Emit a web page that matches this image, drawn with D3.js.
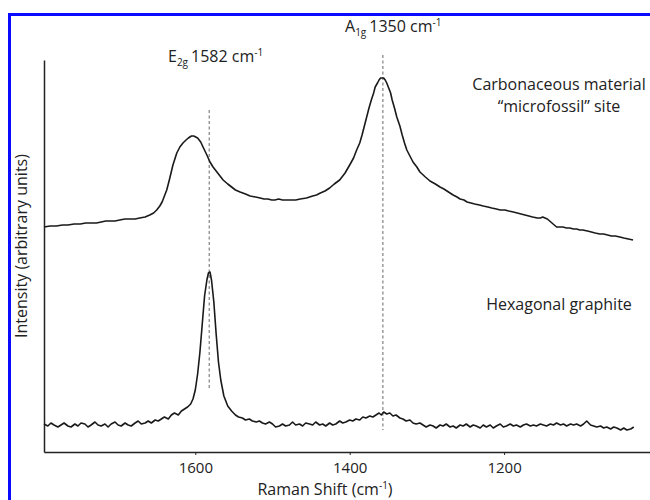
<!DOCTYPE html>
<html>
<head>
<meta charset="utf-8">
<script src="https://cdn.jsdelivr.net/npm/d3@7"></script>
<style>
  html, body { margin: 0; padding: 0; background: #fff; }
  svg { display: block; }
  text { font-family: "Open Sans", "Noto Sans", sans-serif; fill: #222; }
</style>
</head>
<body>
<svg id="chart" width="650" height="500"></svg>
<script>
// ---- Data ----
const xTicks = [1600, 1400, 1200];
const xDomain = [1796, 1011];
const yDomain = [0, 392];

// Carbonaceous material "microfossil" site : [Raman shift, intensity]
const carbonaceous = [
  [1796,225],[1788,226],[1780,226],[1772,227],[1765,227],[1757,228],[1749,228],[1742,229],
  [1735,229],[1728,229],[1722,230],[1716,231],[1710,231],[1704,231],[1698,232],[1691,233],
  [1685,233],[1678,233],[1672,234],[1665,235],[1659,237],[1654,239],[1650,242],[1646,246],
  [1643,250],[1640,256],[1637,262],[1633,274],[1629,287],[1624,299],[1620,305],[1616,309],
  [1612,312],[1609,314],[1605,316],[1602,316],[1597,314],[1593,310],[1590,305],[1585,297],
  [1581,290],[1577,285],[1574,282],[1569,277],[1564,272],[1558,268],[1553,265],[1548,262],
  [1542,260],[1535,258],[1529,256],[1522,255],[1516,254],[1511,253],[1506,253],[1501,252],
  [1497,252],[1492,253],[1487,252],[1482,252],[1477,252],[1470,252],[1464,253],[1456,254],
  [1448,256],[1443,257],[1438,259],[1432,261],[1426,264],[1420,268],[1413,272],[1406,279],
  [1400,287],[1395,294],[1391,302],[1387,309],[1384,317],[1381,326],[1378,335],[1375,344],
  [1372,352],[1369,359],[1367,365],[1364,369],[1362,372],[1360,374],[1358,374],[1356,374],
  [1354,372],[1352,369],[1350,365],[1347,359],[1345,352],[1342,344],[1339,335],[1335,326],
  [1332,317],[1329,309],[1326,302],[1322,296],[1318,290],[1313,285],[1309,280],[1302,275],
  [1296,271],[1289,268],[1283,265],[1278,263],[1274,261],[1270,259],[1266,257],[1261,255],
  [1257,253],[1252,252],[1248,250],[1243,249],[1238,248],[1232,247],[1227,246],[1221,245],
  [1216,244],[1210,243],[1205,242],[1199,242],[1194,241],[1188,240],[1183,239],[1178,238],
  [1173,237],[1168,236],[1163,235],[1157,234],[1153,234],[1150,235],[1147,234],[1144,233],
  [1141,231],[1138,229],[1135,227],[1132,225],[1128,225],[1124,225],[1119,224],[1115,224],
  [1110,223],[1106,223],[1102,222],[1098,222],[1092,221],[1087,220],[1082,219],[1076,218],
  [1071,218],[1066,217],[1061,216],[1056,216],[1050,215],[1045,214],[1039,213],[1033,212]
];

// Hexagonal graphite : [Raman shift, intensity]
const graphite = [
  [1796,28],[1791,26],[1787,29],[1783,27],[1778,25],[1774,27],[1770,29],[1765,26],[1761,25],
  [1756,28],[1752,26],[1748,29],[1743,28],[1739,25],[1735,27],[1730,30],[1726,27],[1722,26],
  [1717,28],[1713,25],[1709,28],[1704,30],[1700,27],[1696,26],[1691,29],[1687,27],[1683,26],
  [1678,29],[1674,31],[1670,28],[1665,29],[1661,31],[1657,29],[1652,32],[1648,31],[1644,33],
  [1640,35],[1635,33],[1631,37],[1627,39],[1622,37],[1618,41],[1614,43],[1610,45],[1606,48],
  [1603,53],[1600,62],[1597,78],[1594,100],[1591,128],[1588,156],[1585,172],[1583,179],
  [1581,180],[1579,172],[1576,150],[1573,118],[1570,90],[1567,72],[1563,56],[1558,46],
  [1553,41],[1548,37],[1544,35],[1539,34],[1535,32],[1530,33],[1526,31],[1521,30],[1517,31],
  [1513,29],[1509,28],[1504,30],[1500,28],[1496,25],[1491,26],[1487,28],[1483,26],[1478,27],
  [1474,30],[1470,27],[1465,28],[1461,26],[1457,29],[1452,28],[1448,27],[1444,30],[1439,27],
  [1435,28],[1431,26],[1426,29],[1422,27],[1418,28],[1413,31],[1409,29],[1405,30],[1400,32],
  [1396,31],[1392,33],[1387,32],[1383,35],[1379,34],[1374,36],[1370,35],[1366,37],[1362,39],
  [1359,37],[1356,40],[1352,38],[1348,39],[1344,36],[1340,37],[1335,34],[1331,33],[1327,31],
  [1322,32],[1318,29],[1314,28],[1309,29],[1305,27],[1301,25],[1296,27],[1292,26],[1288,24],
  [1283,27],[1279,26],[1275,28],[1270,25],[1266,26],[1262,24],[1257,27],[1253,26],[1249,28],
  [1244,25],[1240,27],[1236,26],[1231,24],[1227,27],[1223,25],[1218,27],[1214,24],[1210,26],
  [1205,28],[1201,25],[1197,26],[1192,28],[1188,26],[1184,27],[1179,25],[1175,27],[1171,28],
  [1166,26],[1162,27],[1158,26],[1153,28],[1149,27],[1145,26],[1140,28],[1136,27],[1132,29],
  [1127,27],[1123,28],[1119,26],[1114,28],[1110,27],[1106,28],[1101,26],[1097,28],[1093,31],
  [1088,27],[1084,26],[1080,25],[1075,26],[1071,24],[1067,25],[1062,23],[1058,25],[1054,24],
  [1049,22],[1045,24],[1041,22],[1036,23],[1032,25]
];

// Band markers: position and vertical extent (intensity units)
const bandMarkers = [
  { name: "E2g", pos: 1582, hi: 342, lo: 62 },
  { name: "A1g", pos: 1357, hi: 397, lo: 22 }
];
const seriesLabels = [
  { lines: ["Carbonaceous material", "\u201Cmicrofossil\u201D site"], y: 362 },
  { lines: ["Hexagonal graphite"], y: 142 }
];

// ---- Layout ----
const svg = d3.select("#chart");
const mLeft = 44, mRight = 650, mTop = 60, mBottom = 452;
const fs = 16;

const x = d3.scaleLinear().domain(xDomain).range([mLeft, mRight]);
const y = d3.scaleLinear().domain(yDomain).range([mBottom, mTop]);

// blue frame
svg.append("rect")
  .attr("x", 9.5).attr("y", 14.5)
  .attr("width", 700).attr("height", 600)
  .attr("fill", "none").attr("stroke", "#0a0aff").attr("stroke-width", 3);

// x axis
const xAxis = d3.axisBottom(x).tickValues(xTicks).tickFormat(d3.format("d"))
  .tickSize(3).tickSizeOuter(0).tickPadding(7);
const gx = svg.append("g").attr("transform", `translate(0,${mBottom})`).call(xAxis);
gx.select(".domain").attr("stroke", "#222").attr("stroke-width", 1.5);
gx.selectAll(".tick line").attr("stroke", "#222").attr("stroke-width", 1);
gx.selectAll(".tick text")
  .attr("font-size", 15).attr("font-family", "'Open Sans', sans-serif").attr("fill", "#222");

// y axis (no ticks)
const yAxis = d3.axisLeft(y).tickValues([]).tickSizeOuter(0);
const gy = svg.append("g").attr("transform", `translate(${mLeft},0)`).call(yAxis);
gy.select(".domain").attr("stroke", "#222").attr("stroke-width", 1.5);

// dashed band markers
svg.selectAll(".marker").data(bandMarkers).enter().append("line")
  .attr("class", "marker")
  .attr("x1", d => x(d.pos)).attr("x2", d => x(d.pos))
  .attr("y1", d => y(d.hi)).attr("y2", d => y(d.lo))
  .attr("stroke", "#666").attr("stroke-width", 1)
  .attr("stroke-dasharray", "3,2.5");

// spectra
const line = d3.line().x(d => x(d[0])).y(d => y(d[1]));
[carbonaceous, graphite].forEach(s => {
  svg.append("path").datum(s)
    .attr("d", line)
    .attr("fill", "none").attr("stroke", "#1a1a1a").attr("stroke-width", 1.6)
    .attr("stroke-linejoin", "round");
});

// band labels
function bandLabel(xp, yp, main, sub, rest) {
  const t = svg.append("text").attr("x", xp).attr("y", yp).attr("font-size", fs);
  t.append("tspan").text(main);
  t.append("tspan").attr("font-size", 10).attr("dy", 4).text(sub);
  t.append("tspan").attr("dy", -4).attr("dx", 3).text(rest);
  t.append("tspan").attr("font-size", 10).attr("dy", -6).text("-1");
}
bandLabel(345, 32, "A", "1g", "1350 cm");
bandLabel(168, 62, "E", "2g", "1582 cm");

// series labels
seriesLabels.forEach(s => {
  const t = svg.append("text").attr("x", 559).attr("y", y(s.y))
    .attr("text-anchor", "middle").attr("font-size", fs);
  s.lines.forEach((l, i) => {
    t.append("tspan").attr("x", 559).attr("dy", i === 0 ? 0 : 22).text(l);
  });
});

// axis titles
const xt = svg.append("text").attr("x", 325).attr("y", 495)
  .attr("text-anchor", "middle").attr("font-size", fs);
xt.append("tspan").text("Raman Shift (cm");
xt.append("tspan").attr("font-size", 10).attr("dy", -6).text("-1");
xt.append("tspan").attr("dy", 6).text(")");

svg.append("text")
  .attr("transform", "translate(27,246) rotate(-90)")
  .attr("text-anchor", "middle").attr("font-size", fs)
  .text("Intensity (arbitrary units)");
</script>
</body>
</html>
